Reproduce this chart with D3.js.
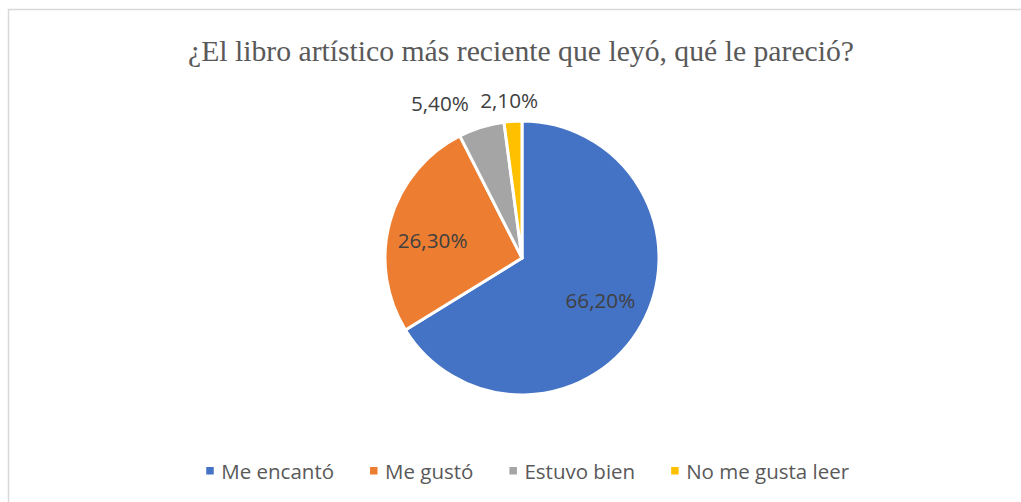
<!DOCTYPE html>
<html>
<head>
<meta charset="utf-8">
<script src="https://cdn.jsdelivr.net/npm/d3@7"></script>
<style>
  body { margin: 0; background: #fff; }
  svg { display: block; }
</style>
</head>
<body>
<div id="chart"></div>
<script>
// data
const categories = ['Me encantó', 'Me gustó', 'Estuvo bien', 'No me gusta leer'];
const values = [66.2, 26.3, 5.4, 2.1];
const labels = ['66,20%', '26,30%', '5,40%', '2,10%'];
const colors = ['#4472C4', '#ED7D31', '#A5A5A5', '#FFC000'];
const title = '¿El libro artístico más reciente que leyó, qué le pareció?';

var width = 1021, height = 502;
var cx = 522, cy = 258, radius = 137;

var svg = d3.select('#chart')
  .append('svg')
  .attr('width', width)
  .attr('height', height);

// chart border (only top and left visible in the crop)
svg.append('rect')
  .attr('x', 8.5)
  .attr('y', 9.5)
  .attr('width', width + 10)
  .attr('height', height + 10)
  .attr('fill', '#fff')
  .attr('stroke', '#d9d9d9')
  .attr('stroke-width', 1.5);

svg.append('text')
  .attr('x', 521)
  .attr('y', 61)
  .attr('text-anchor', 'middle')
  .attr('font-family', '"Liberation Serif", "Times New Roman", serif')
  .attr('font-size', 29.7)
  .attr('fill', '#595959')
  .text(title);

var pie = d3.pie().sort(null).value(d => d)
  .startAngle(0).endAngle(2 * Math.PI);
var arcs = pie(values);

var arc = d3.arc().innerRadius(0).outerRadius(radius);

var g = svg.append('g').attr('transform', `translate(${cx},${cy})`);

g.selectAll('path')
  .data(arcs)
  .enter()
  .append('path')
  .attr('d', arc)
  .attr('fill', (d, i) => colors[i])
  .attr('stroke', '#fff')
  .attr('stroke-width', 3)
  .attr('stroke-linejoin', 'round');

// label placement (best-fit like): radius and angle shift per slice
var labelLayout = [
  {r: 89, shift: -0.9},
  {r: 91, shift: -4.9},
  {r: 175, shift: -10.7},
  {r: 158, shift: -0.9}
];

g.selectAll('text.lbl')
  .data(arcs)
  .enter()
  .append('text')
  .attr('class', 'lbl')
  .attr('transform', (d, i) => {
    var a = (d.startAngle + d.endAngle) / 2 + labelLayout[i].shift * Math.PI / 180;
    var r = labelLayout[i].r;
    return `translate(${r * Math.sin(a)},${-r * Math.cos(a)})`;
  })
  .attr('text-anchor', 'middle')
  .attr('dy', '0.36em')
  .attr('font-family', '"Open Sans", Carlito, Calibri, sans-serif')
  .attr('font-size', 20.7)
  .attr('fill', '#404040')
  .text((d, i) => labels[i]);

// legend
var legend = svg.append('g').attr('class', 'legend');
var items = legend.selectAll('g')
  .data(categories)
  .enter()
  .append('g');

items.append('rect')
  .attr('width', 7.5)
  .attr('height', 7.5)
  .attr('y', -12)
  .attr('fill', (d, i) => colors[i]);

items.append('text')
  .attr('x', 15)
  .attr('font-family', '"Open Sans", Carlito, Calibri, sans-serif')
  .attr('font-size', 20.5)
  .attr('fill', '#595959')
  .text(d => d);

var gap = 36, x = 0;
items.each(function() {
  var w = this.getBBox().width;
  d3.select(this).attr('transform', `translate(${x},0)`);
  x += w + gap;
});
var total = x - gap;
legend.attr('transform', `translate(${528 - total / 2},${479})`);
</script>
</body>
</html>
